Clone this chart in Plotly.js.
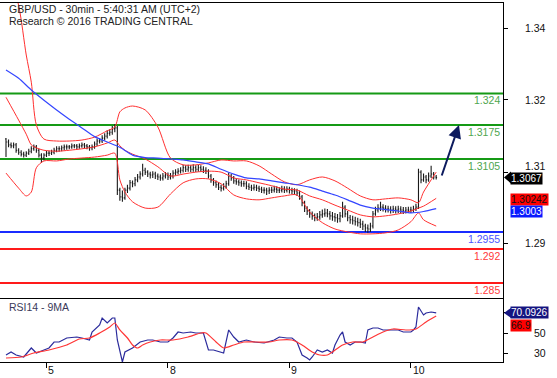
<!DOCTYPE html>
<html><head><meta charset="utf-8">
<script src="https://cdn.plot.ly/plotly-3.0.1.min.js"></script>
<style>html,body{margin:0;padding:0;background:#fff;}#chart{width:557px;height:378px;}</style>
</head><body><div id="chart"></div>
<script>
// ---- price bars (30min GBP/USD), bar index 0..170 ----
const barOpen = [1.3146,1.3140,1.3134,1.3132,1.3134,1.3123,1.3119,1.3115,1.3113,1.3117,
1.3121,1.3126,1.3130,1.3123,1.3113,1.3107,1.3113,1.3117,1.3117,1.3119,
1.3123,1.3126,1.3126,1.3128,1.3130,1.3130,1.3130,1.3132,1.3132,1.3130,
1.3132,1.3134,1.3132,1.3130,1.3128,1.3130,1.3136,1.3142,1.3142,1.3148,
1.3152,1.3158,1.3160,1.3167,1.3169,1.3041,1.3027,1.3025,1.3041,1.3045,
1.3056,1.3054,1.3062,1.3068,1.3074,1.3082,1.3078,1.3074,1.3072,1.3074,
1.3070,1.3068,1.3066,1.3070,1.3072,1.3068,1.3070,1.3076,1.3078,1.3080,
1.3082,1.3087,1.3084,1.3087,1.3084,1.3087,1.3084,1.3087,1.3084,1.3082,
1.3080,1.3070,1.3062,1.3056,1.3052,1.3047,1.3045,1.3049,1.3054,1.3070,
1.3066,1.3060,1.3058,1.3056,1.3054,1.3054,1.3049,1.3047,1.3045,1.3047,
1.3045,1.3043,1.3041,1.3041,1.3039,1.3041,1.3041,1.3043,1.3041,1.3041,
1.3043,1.3041,1.3043,1.3041,1.3039,1.3039,1.3035,1.3027,1.3015,1.3004,
1.2998,1.2992,1.2988,1.2984,1.2986,1.2990,1.2992,1.2994,1.2992,1.2988,
1.2986,1.2984,1.2982,1.2988,1.3006,1.2992,1.2984,1.2980,1.2978,1.2976,
1.2974,1.2971,1.2967,1.2963,1.2961,1.2967,1.2992,1.3000,1.3004,1.3006,
1.3004,1.3002,1.3002,1.3000,1.3002,1.3000,1.3002,1.3000,1.2998,1.3000,
1.3000,1.3000,1.3002,1.3006,1.3078,1.3062,1.3068,1.3062,1.3070,1.3074,
1.3068];
const barHigh = [1.3148,1.3145,1.3139,1.3139,1.3138,1.3127,1.3123,1.3120,1.3121,1.3126,
1.3131,1.3135,1.3134,1.3126,1.3117,1.3117,1.3122,1.3122,1.3124,1.3128,
1.3131,1.3131,1.3133,1.3135,1.3135,1.3134,1.3137,1.3136,1.3136,1.3137,
1.3139,1.3138,1.3136,1.3134,1.3135,1.3141,1.3147,1.3148,1.3154,1.3158,
1.3164,1.3166,1.3173,1.3177,1.3173,1.3046,1.3040,1.3046,1.3052,1.3062,
1.3061,1.3068,1.3074,1.3080,1.3095,1.3087,1.3082,1.3079,1.3080,1.3079,
1.3075,1.3073,1.3076,1.3078,1.3077,1.3076,1.3082,1.3084,1.3086,1.3088,
1.3093,1.3092,1.3093,1.3092,1.3094,1.3092,1.3093,1.3092,1.3090,1.3088,
1.3084,1.3074,1.3066,1.3061,1.3057,1.3052,1.3055,1.3060,1.3077,1.3074,
1.3070,1.3065,1.3063,1.3061,1.3060,1.3059,1.3055,1.3052,1.3053,1.3052,
1.3050,1.3048,1.3047,1.3046,1.3047,1.3048,1.3050,1.3049,1.3047,1.3050,
1.3049,1.3049,1.3048,1.3046,1.3045,1.3044,1.3040,1.3031,1.3019,1.3008,
1.3002,1.2997,1.2993,1.2994,1.2998,1.3001,1.3003,1.3002,1.2998,1.2996,
1.2994,1.2992,1.2996,1.3017,1.3010,1.2998,1.2990,1.2988,1.2986,1.2984,
1.2982,1.2978,1.2972,1.2970,1.2974,1.2998,1.3007,1.3012,1.3017,1.3012,
1.3010,1.3009,1.3008,1.3009,1.3008,1.3009,1.3008,1.3006,1.3006,1.3007,
1.3007,1.3009,1.3013,1.3085,1.3082,1.3075,1.3072,1.3077,1.3091,1.3078,
1.3072];
const barLow = [1.3109,1.3129,1.3127,1.3127,1.3118,1.3114,1.3110,1.3108,1.3109,1.3113,
1.3117,1.3122,1.3118,1.3108,1.3097,1.3102,1.3109,1.3111,1.3113,1.3115,
1.3119,1.3120,1.3121,1.3123,1.3124,1.3125,1.3126,1.3127,1.3125,1.3126,
1.3128,1.3127,1.3125,1.3122,1.3123,1.3126,1.3132,1.3137,1.3138,1.3143,
1.3147,1.3153,1.3155,1.3160,1.3031,1.3019,1.3017,1.3021,1.3035,1.3040,
1.3047,1.3049,1.3057,1.3063,1.3069,1.3072,1.3068,1.3065,1.3066,1.3064,
1.3062,1.3060,1.3061,1.3065,1.3062,1.3063,1.3065,1.3071,1.3073,1.3075,
1.3077,1.3078,1.3079,1.3078,1.3079,1.3078,1.3079,1.3078,1.3076,1.3074,
1.3065,1.3056,1.3050,1.3046,1.3041,1.3038,1.3040,1.3044,1.3050,1.3060,
1.3054,1.3052,1.3050,1.3048,1.3048,1.3043,1.3041,1.3039,1.3040,1.3039,
1.3037,1.3035,1.3034,1.3031,1.3033,1.3035,1.3036,1.3035,1.3035,1.3036,
1.3035,1.3036,1.3034,1.3033,1.3032,1.3029,1.3021,1.3008,1.2996,1.2990,
1.2984,1.2980,1.2977,1.2978,1.2980,1.2984,1.2986,1.2985,1.2980,1.2978,
1.2976,1.2974,1.2975,1.2984,1.2985,1.2977,1.2972,1.2970,1.2968,1.2966,
1.2963,1.2959,1.2955,1.2953,1.2955,1.2962,1.2988,1.2995,1.2998,1.2997,
1.2995,1.2995,1.2993,1.2994,1.2993,1.2994,1.2993,1.2992,1.2993,1.2994,
1.2994,1.2995,1.2998,1.3002,1.3055,1.3058,1.3055,1.3058,1.3066,1.3063,
1.3063];
const barClose = [1.3140,1.3134,1.3132,1.3134,1.3123,1.3119,1.3115,1.3113,1.3117,1.3121,
1.3126,1.3130,1.3123,1.3113,1.3107,1.3113,1.3117,1.3117,1.3119,1.3123,
1.3126,1.3126,1.3128,1.3130,1.3130,1.3130,1.3132,1.3132,1.3130,1.3132,
1.3134,1.3132,1.3130,1.3128,1.3130,1.3136,1.3142,1.3142,1.3148,1.3152,
1.3158,1.3160,1.3167,1.3169,1.3041,1.3027,1.3025,1.3041,1.3045,1.3056,
1.3054,1.3062,1.3068,1.3074,1.3082,1.3078,1.3074,1.3072,1.3074,1.3070,
1.3068,1.3066,1.3070,1.3072,1.3068,1.3070,1.3076,1.3078,1.3080,1.3082,
1.3087,1.3084,1.3087,1.3084,1.3087,1.3084,1.3087,1.3084,1.3082,1.3080,
1.3070,1.3062,1.3056,1.3052,1.3047,1.3045,1.3049,1.3054,1.3070,1.3066,
1.3060,1.3058,1.3056,1.3054,1.3054,1.3049,1.3047,1.3045,1.3047,1.3045,
1.3043,1.3041,1.3041,1.3039,1.3041,1.3041,1.3043,1.3041,1.3041,1.3043,
1.3041,1.3043,1.3041,1.3039,1.3039,1.3035,1.3027,1.3015,1.3004,1.2998,
1.2992,1.2988,1.2984,1.2986,1.2990,1.2992,1.2994,1.2992,1.2988,1.2986,
1.2984,1.2982,1.2988,1.3006,1.2992,1.2984,1.2980,1.2978,1.2976,1.2974,
1.2971,1.2967,1.2963,1.2961,1.2967,1.2992,1.3000,1.3004,1.3006,1.3004,
1.3002,1.3002,1.3000,1.3002,1.3000,1.3002,1.3000,1.2998,1.3000,1.3000,
1.3000,1.3002,1.3006,1.3078,1.3062,1.3068,1.3062,1.3070,1.3074,1.3068,
1.3067];
const barIdx = barClose.map((_, i) => i);

// ---- Bollinger bands (sampled bars) ----
const bbIdx = [0,5,8,10,12,15,20,25,30,35,40,43,45,47,50,55,60,65,70,75,80,85,90,95,100,105,110,115,120,125,130,135,140,145,150,155,160,163,165,170];
const bbUpper = [1.3514,1.3421,1.3319,1.3263,1.3175,1.3146,1.3142,1.3142,1.3144,1.3150,1.3163,1.3171,1.3202,1.3210,1.3214,1.3206,1.3171,1.3107,1.3093,1.3093,1.3097,1.3103,1.3101,1.3101,1.3091,1.3074,1.3058,1.3052,1.3062,1.3068,1.3060,1.3045,1.3029,1.3021,1.3023,1.3025,1.3021,1.3015,1.3037,1.3078];
const bbMiddle = [1.3232,1.3185,1.3156,1.3134,1.3128,1.3123,1.3121,1.3123,1.3126,1.3130,1.3138,1.3144,1.3132,1.3123,1.3115,1.3105,1.3089,1.3070,1.3074,1.3078,1.3080,1.3078,1.3066,1.3062,1.3056,1.3050,1.3043,1.3041,1.3029,1.3021,1.3010,1.3000,1.2990,1.2986,1.2988,1.2992,1.2998,1.3004,1.3008,1.3024];
const bbLower = [1.3076,1.3045,1.3029,1.3037,1.3087,1.3101,1.3101,1.3105,1.3107,1.3109,1.3113,1.3117,1.3062,1.3037,1.3017,1.3004,1.3006,1.3033,1.3056,1.3064,1.3064,1.3054,1.3031,1.3023,1.3021,1.3025,1.3029,1.3031,1.2996,1.2974,1.2961,1.2955,1.2951,1.2951,1.2953,1.2959,1.2976,1.2994,1.2980,1.2967];

// ---- long moving average (blue) ----
const maIdx = [0,5,10,15,20,25,30,35,40,45,50,55,60,65,70,75,80,85,90,95,100,105,110,115,120,125,130,135,140,145,150,155,160,165,170];
const maVal = [1.3288,1.3271,1.3247,1.3226,1.3206,1.3187,1.3169,1.3151,1.3140,1.3129,1.3113,1.3108,1.3107,1.3105,1.3103,1.3099,1.3095,1.3084,1.3074,1.3066,1.3064,1.3060,1.3056,1.3052,1.3047,1.3039,1.3031,1.3021,1.3010,1.3004,1.3001,1.2998,1.2994,1.2997,1.3003];

// ---- RSI14 and its 9MA ----
const rsiIdx = [0,2,4,7,10,12,15,17,19,21,24,28,30,33,34,37,38,40,42,43,44,46,47,50,53,56,58,61,64,66,68,70,73,75,78,80,82,85,86,88,90,92,95,98,102,106,108,111,113,115,117,119,120,121,123,125,127,129,130,132,133,134,136,138,140,142,143,145,147,149,152,155,157,160,161,162,163,165,166,168,170];
const rsiVal = [28,31,28,26,35,30,33,35,41,41,45,46,45,43,51,58,65,60,65,65,43,21,31,35,41,43,43,41,41,45,51,50,51,50,50,33,33,31,30,53,46,41,43,41,40,43,46,45,45,41,28,25,23,26,33,31,33,30,38,48,51,41,38,41,41,40,53,55,55,53,53,53,51,51,53,56,76,68,70,71,70.09];
const rsiMaIdx = [0,6,11,17,24,29,33,37,41,43,45,48,50,52,54,57,61,66,72,77,79,83,86,90,94,99,104,108,113,117,121,124,127,129,133,137,141,145,149,153,158,162,166,170];
const rsiMaVal = [25,26,30,33,38,44,45,50,56,60,53,45,38,35,38,41,43,43,46,50,50,41,35,38,41,41,41,43,43,38,31,28,28,31,38,41,41,46,51,54,53,54,61,66.9];

// ---- levels and axis labels ----
const levelVals = [1.324, 1.3175, 1.3105, 1.2955, 1.292, 1.285];
const levelText = ['1.324','1.3175','1.3105','1.2955','1.292','1.285'];
const levelKind = ['res','res','res','pivot','sup','sup'];
const priceTickVals = [1.3374, 1.3227, 1.3078, 1.2932];
const priceTickText = ['1.34','1.32','1.31','1.29'];
const rsiTickVals = [30, 50, 70];
const rsiTickText = ['30','50',''];
const dayTickIdx = [16, 64, 112, 160];
const dayTickText = ['5','8','9','10'];
const lastPrice = 1.3067, lastMid = 1.30242, lastMa = 1.3003;
const lastRsi = 70.0926, lastRsiMa = 66.9;
const arrowFrom = [172, 1.3068], arrowTo = [179, 1.3175];

const FONT = 'Arial, "Liberation Sans", sans-serif';
const PX_R = 503; // plot right edge
const pxX = px => px / PX_R;
const pyPaper = py => (362 - py) / 359;

const levelColor = {res:'#159a15', pivot:'#1a2cff', sup:'#ff1a1a'};
const levelTextColor = {res:'#4ea64e', pivot:'#4a55ff', sup:'#ff3a3a'};

const traces = [
  {type:'ohlc', x:barIdx, open:barOpen, high:barHigh, low:barLow, close:barClose,
   xaxis:'x', yaxis:'y', tickwidth:0.35, hoverinfo:'skip',
   increasing:{line:{color:'#1a1a1a', width:1.1}}, decreasing:{line:{color:'#1a1a1a', width:1.1}}},
  {type:'scatter', mode:'lines', x:bbIdx, y:bbUpper, line:{color:'#ff3030', width:1, shape:'spline', smoothing:0.8}, xaxis:'x', yaxis:'y', hoverinfo:'skip'},
  {type:'scatter', mode:'lines', x:bbIdx, y:bbMiddle, line:{color:'#ff3030', width:1, shape:'spline', smoothing:0.8}, xaxis:'x', yaxis:'y', hoverinfo:'skip'},
  {type:'scatter', mode:'lines', x:bbIdx, y:bbLower, line:{color:'#ff3030', width:1, shape:'spline', smoothing:0.8}, xaxis:'x', yaxis:'y', hoverinfo:'skip'},
  {type:'scatter', mode:'lines', x:maIdx, y:maVal, line:{color:'#3446ff', width:1.2, shape:'spline', smoothing:0.6}, xaxis:'x', yaxis:'y', hoverinfo:'skip'},
  {type:'scatter', mode:'lines', x:rsiIdx, y:rsiVal, line:{color:'#2b2b9c', width:1.2}, xaxis:'x2', yaxis:'y2', hoverinfo:'skip'},
  {type:'scatter', mode:'lines', x:rsiMaIdx, y:rsiMaVal, line:{color:'#ff3535', width:1.2, shape:'spline', smoothing:0.6}, xaxis:'x2', yaxis:'y2', hoverinfo:'skip'}
];

const shapes = levelVals.map((v, i) => ({type:'line', xref:'paper', x0:0, x1:1, yref:'y', y0:v, y1:v,
  line:{color:levelColor[levelKind[i]], width:2}, layer:'below'}));
// pointer triangles for tags
shapes.push({type:'path', xref:'paper', xsizemode:'pixel', xanchor:1, yref:'y', ysizemode:'pixel', yanchor:lastPrice,
  path:'M 1,0 L 8,6 L 8,-6 Z', fillcolor:'#000', line:{width:0}});
shapes.push({type:'path', xref:'paper', xsizemode:'pixel', xanchor:1, yref:'y2', ysizemode:'pixel', yanchor:lastRsi,
  path:'M 1,0 L 8,5 L 8,-5 Z', fillcolor:'#141480', line:{width:0}});

const ann = [];
const txt = (text, x, y, opts) => Object.assign({text, x, y, showarrow:false, font:{family:FONT, size:10.5, color:'#222'}}, opts);
ann.push(txt('GBP/USD - 30min - 5:40:31 AM (UTC+2)', pxX(7), pyPaper(9), {xref:'paper', yref:'paper', xanchor:'left', yanchor:'middle'}));
ann.push(txt('Research \u00a9 2016 TRADING CENTRAL', pxX(7), pyPaper(21), {xref:'paper', yref:'paper', xanchor:'left', yanchor:'middle'}));
ann.push(txt('RSI14 - 9MA', pxX(7), pyPaper(307), {xref:'paper', yref:'paper', xanchor:'left', yanchor:'middle', font:{family:FONT, size:10.5, color:'#3a3a5a'}}));
levelVals.forEach((v, i) => ann.push(txt(levelText[i], 1, v, {xref:'paper', yref:'y', xanchor:'right', yanchor:'middle', xshift:-1, yshift:-7,
  font:{family:FONT, size:10.5, color:levelTextColor[levelKind[i]]}})));
priceTickVals.forEach((v, i) => ann.push(txt(priceTickText[i], pxX(548), v, {xref:'paper', yref:'y', xanchor:'right', yanchor:'middle', yshift:(priceTickText[i] === '1.31' ? 6 : 0), font:{family:FONT, size:10.5, color:'#111'}})));
rsiTickVals.forEach((v, i) => { if (rsiTickText[i]) ann.push(txt(rsiTickText[i], pxX(548), v, {xref:'paper', yref:'y2', xanchor:'right', yanchor:'middle', font:{family:FONT, size:10.5, color:'#111'}})); });
dayTickIdx.forEach((v, i) => ann.push(txt(dayTickText[i], v, pyPaper(370), {xref:'x2', yref:'paper', xanchor:'left', yanchor:'middle', xshift:0, font:{family:FONT, size:10.5, color:'#111'}})));
// value tags
const tag = (text, y, yref, bg, fg, yshift) => txt(text, pxX(510), y, {xref:'paper', yref, xanchor:'left', yanchor:'middle', yshift,
  bgcolor:bg, borderpad:0, font:{family:FONT, size:10, color:fg}});
ann.push(tag(lastPrice.toFixed(4), lastPrice, 'y', '#000', '#fff', -1));
ann.push(tag(String(lastMid), lastMid, 'y', '#ff0000', '#111', -1));
ann.push(tag(lastMa.toFixed(4), lastMa, 'y', '#0a1aff', '#fff', -3));
ann.push(tag(String(lastRsi), lastRsi, 'y2', '#141480', '#fff', 0));
ann.push(tag(String(lastRsiMa), lastRsiMa, 'y2', '#ff0000', '#111', -9));
// forecast arrow
ann.push({x:arrowTo[0], y:arrowTo[1], ax:arrowFrom[0], ay:arrowFrom[1], xref:'x', yref:'y', axref:'x', ayref:'y',
  text:'', showarrow:true, arrowhead:2, arrowsize:1.3, arrowwidth:2, arrowcolor:'#0d1b5e', standoff:0});

const xRange = [-2.37, 196.4];
const layout = {
  width:557, height:378, margin:{l:0, r:54, t:3, b:16}, showlegend:false,
  paper_bgcolor:'#fff', plot_bgcolor:'#fff', font:{family:FONT},
  xaxis:{domain:[0,1], range:xRange, anchor:'y', showgrid:false, zeroline:false, showticklabels:false,
    showline:true, mirror:true, linecolor:'#000', linewidth:1, ticks:'', rangeslider:{visible:false}, fixedrange:true},
  yaxis:{domain:[0.1783,1], range:[1.2819,1.3426], anchor:'x', side:'right', showgrid:false, zeroline:false,
    showline:true, linecolor:'#000', linewidth:1, tickvals:priceTickVals, ticks:'outside', ticklen:4, tickcolor:'#000', showticklabels:false},
  xaxis2:{domain:[0,1], range:xRange, anchor:'y2', showgrid:false, zeroline:false, showticklabels:false,
    showline:true, linecolor:'#000', linewidth:1, tickvals:dayTickIdx, ticks:'outside', ticklen:5, tickcolor:'#000'},
  yaxis2:{domain:[0,0.1783], range:[21,85], anchor:'x2', side:'right', showgrid:false, zeroline:false,
    showline:true, linecolor:'#000', linewidth:1, tickvals:rsiTickVals, ticks:'outside', ticklen:4, tickcolor:'#000', showticklabels:false},
  shapes, annotations:ann
};
Plotly.newPlot('chart', traces, layout, {displayModeBar:false, staticPlot:true});
</script></body></html>
